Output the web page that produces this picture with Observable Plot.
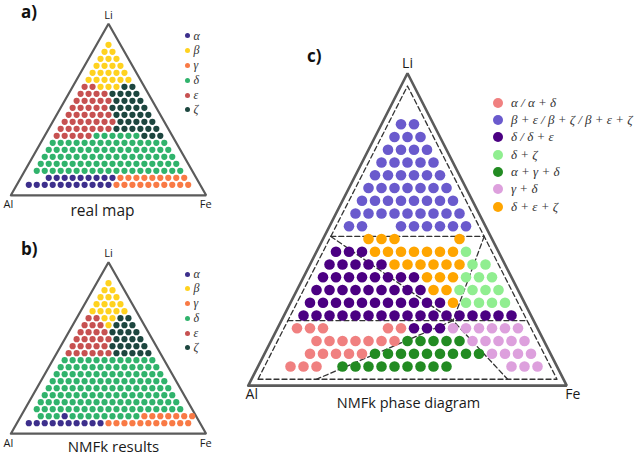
<!DOCTYPE html>
<html><head><meta charset="utf-8">
<script src="https://cdn.jsdelivr.net/npm/d3@7"></script>
<script src="https://cdn.jsdelivr.net/npm/@observablehq/plot@0.6"></script>
<style>
body{margin:0;background:#fff;}
#root{position:relative;width:640px;height:456px;overflow:hidden;font-family:"Open Sans",sans-serif;}
#root svg{position:absolute;left:0;top:0;}
.tag{position:absolute;font-weight:bold;font-size:17px;line-height:17px;color:#111;font-family:"Open Sans",sans-serif;}
.leg{position:absolute;font-family:"Liberation Serif",serif;font-style:italic;color:#333;}
.leg .row{display:flex;align-items:center;white-space:nowrap;}
.leg .dot{display:inline-block;border-radius:50%;flex:none;}
</style></head><body><div id="root"></div>
<script>
// ---- data ----
const phaseCodes  = ["a","b","g","d","e","z"];
const phaseNames  = ["α","β","γ","δ","ε","ζ"];
const phaseColors = ["#3d2f8c","#ffd21f","#f97a45","#30b36c","#c75151","#1d463f"];

// rows from the Li apex (top) down to the Al–Fe edge; "." = no sample
const realMapRows = [
  "b","bb","bbb","bbbb","bbbbb","bbbbbb",
  "eebbbzz","eeeezzzz","eeeeezzzz","eeeeezzzzz","eeeeeezzzzz","eeeeeeezzzzz",
  "eeeeeeezzzzzz","eeeeeddddddzzz",
  "ddddddddddddddd","dddddddddddddddd","ddddddddddddddddd","dddddddddddddddddd",
  "ddddddddddddddddddd","..aaaaaaaaaggggggggg","aaaaaaaaaaagggggggggg"
];
const nmfkRows = [
  "b","bb","bbb","bbbb","bbbbb","eebbzz",
  "eeebzzz","eeeezzzz","eeeeezzzz","eeeeezzzzz","eeeeeezzzzz",
  "dddddddddddd","ddddddddddddd","dddddddddddddd","ddddddddddddddd",
  "dddddddddddddddd","ddddddddddddddddd","dddddddddddddddddd","ddddddddddddddddddd",
  ".dddadddddddddggggggg","aaaaaaaaaaggggggggggg"
];

const diagramCodes  = ["s","b","p","l","f","v","o"];
const diagramNames  = ["α / α + δ","β + ε / β + ζ / β + ε + ζ","δ / δ + ε","δ + ζ","α + γ + δ","γ + δ","δ + ε + ζ"];
const diagramColors = ["#f08080","#6a5acd","#4b0082","#90ee90","#228b22","#dda0dd","#ffa500"];
const diagramRows = [
  ".","bb","bbb","bbbb","bbbbb","bbbbbb","bbbbbbb","bbbbbbbb","bbbbbbbbb",
  "bb..bbbbbb","..ooo....o.","pppoooooool.","pppppooooooll","ppppppppooolll",
  "pppppppppoollll","pppppppppppollll","ppppppppppppppppp",
  "sss....sspppvvvvvv","..sssssssfffffvvvvv","..sssssfffffffffvvvv",".sss.fffffffff....vvv"
];
// phase boundaries in panel c as [Li fraction, Fe fraction] vertices
const boundaries = [
  [[0.51,-0.05],[0.51,0.54]],
  [[0.18,-0.05],[0.18,0.87]],
  [[0.51,-0.05],[0.18,0.585],[-0.05,0.91]],
  [[0.18,0.585],[-0.05,0.175]],
  [[0.51,0.54],[0.18,0.585]]
];
const vertexLabels = ["Al","Fe","Li"];
const captions = ["real map","NMFk results","NMFk phase diagram"];
const panelTags = ["a)","b)","c)"];

// ---- helpers ----
const tern = (li, fe) => ({x: fe + li / 2, y: li});
function gridPoints(rows) {
  const n = rows.length - 1, pts = [];
  rows.forEach((row, i) => {
    const r = n - i;
    [...row].forEach((ch, c) => { if (ch !== ".") pts.push({...tern(r / n, c / n), phase: ch}); });
  });
  return pts;
}
const frame = p => [tern(-p,-p), tern(-p,1+2*p), tern(1+2*p,-p), tern(-p,-p)];

function drawPanel(o) {
  const corners = frame(o.pad);
  const marks = [];
  if (o.dashPad != null) {
    marks.push(Plot.line(frame(o.dashPad), {x:"x", y:"y", stroke:"#333", strokeWidth:1.3, strokeDasharray:"5,3"}));
    const segs = boundaries.flatMap((b, id) => b.map(([li, fe]) => ({...tern(li, fe), id})));
    marks.push(Plot.line(segs, {x:"x", y:"y", z:"id", stroke:"#333", strokeWidth:1.3, strokeDasharray:"5,3"}));
  }
  marks.push(Plot.line(corners, {x:"x", y:"y", stroke:"#5b5b5b", strokeWidth:o.frameW, strokeLinejoin:"miter"}));
  marks.push(Plot.dot(gridPoints(o.rows), {x:"x", y:"y", r:o.dotR, fill:"phase"}));
  vertexLabels.forEach((t, i) => marks.push(Plot.text([corners[i]], {
    x:"x", y:"y", text: () => t, dx:o.ldx[i], dy:o.ldy[i], fontSize:o.labelSize, fill:"#1a1a1a"})));
  marks.push(Plot.text([tern(-o.pad, 0.5 + o.pad / 2)], {
    x:"x", y:"y", text: () => o.caption, dx:o.capDx, dy:o.capDy, fontSize:o.capSize, fill:"#1a1a1a"}));
  return Plot.plot({
    width:640, height:456,
    x:{domain:[0,1], range:o.xr, axis:null},
    y:{domain:[0,1], range:o.yr, axis:null},
    color:{type:"ordinal", domain:o.codes, range:o.colors},
    style:{background:"transparent", fontFamily:"Open Sans, sans-serif"},
    marks
  });
}

const root = document.getElementById("root");
function legend(names, colors, x, y0, step, dotD, gap, fontSize) {
  const el = document.createElement("div");
  el.className = "leg";
  el.style.left = (x - dotD / 2) + "px";
  el.style.top = (y0 - step / 2) + "px";
  el.style.fontSize = fontSize + "px";
  names.forEach((n, i) => {
    const row = document.createElement("div");
    row.className = "row"; row.style.height = step + "px";
    const d = document.createElement("span");
    d.className = "dot"; d.style.width = d.style.height = dotD + "px"; d.style.background = colors[i];
    const t = document.createElement("span");
    t.textContent = n; t.style.marginLeft = gap + "px";
    row.appendChild(d); row.appendChild(t); el.appendChild(row);
  });
  root.appendChild(el);
}
function tag(t, x, y) {
  const el = document.createElement("div");
  el.className = "tag"; el.textContent = t; el.style.left = x + "px"; el.style.top = y + "px";
  root.appendChild(el);
}

root.appendChild(drawPanel({rows:realMapRows, codes:phaseCodes, colors:phaseColors,
  xr:[28.3,187.7], yr:[184.3,44.3], pad:0.075, frameW:2.2, dotR:3.1,
  ldx:[-2.5,-0.5,0], ldy:[9.5,9.5,-8.5], labelSize:11,
  caption:captions[0], capDx:-6, capDy:16, capSize:15.5}));
root.appendChild(drawPanel({rows:nmfkRows, codes:phaseCodes, colors:phaseColors,
  xr:[28.3,187.7], yr:[422.7,282.7], pad:0.075, frameW:2.2, dotR:3.1,
  ldx:[-2.5,-0.5,0], ldy:[9.5,9.5,-8.5], labelSize:11,
  caption:captions[1], capDx:5, capDy:13.5, capSize:15}));
root.appendChild(drawPanel({rows:diagramRows, codes:diagramCodes, colors:diagramColors,
  xr:[277,537], yr:[366,111], pad:0.075, dashPad:0.05, frameW:2.6, dotR:5.3,
  ldx:[3.5,6,0], ldy:[8.5,8.5,-10], labelSize:14,
  caption:captions[2], capDx:1, capDy:18, capSize:14.5}));

legend(phaseNames, phaseColors, 187, 36, 14.8, 5, 4, 12);
legend(phaseNames, phaseColors, 187, 274.3, 14.7, 5, 4, 12);
legend(diagramNames, diagramColors, 498, 102.7, 17.33, 10, 8, 13);
tag(panelTags[0], 21, 3);
tag(panelTags[1], 21, 240);
tag(panelTags[2], 307, 47);
</script></body></html>
